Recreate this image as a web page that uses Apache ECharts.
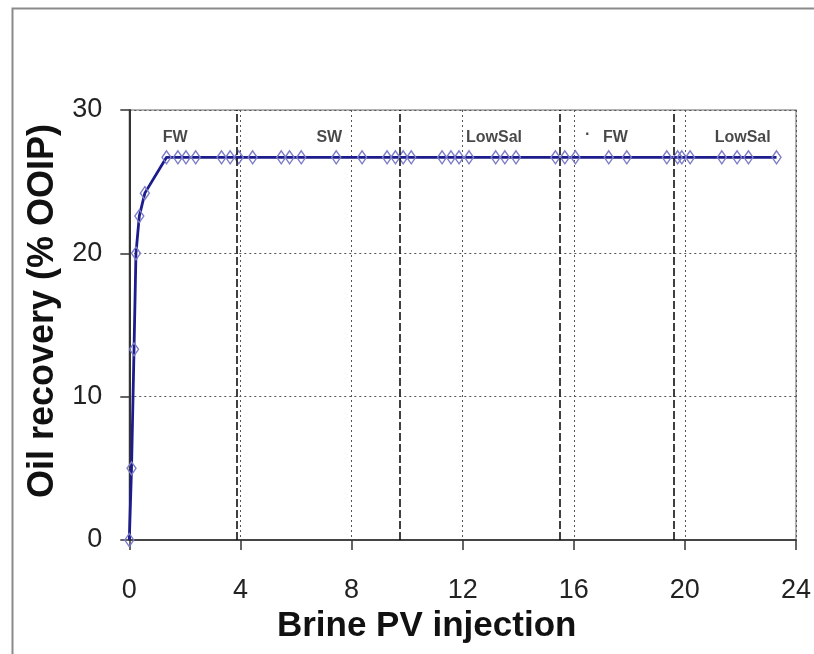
<!DOCTYPE html>
<html>
<head>
<meta charset="utf-8">
<script src="https://cdn.jsdelivr.net/npm/echarts@6/dist/echarts.min.js"></script>
<style>html,body{margin:0;padding:0;background:#fff}#c{width:814px;height:654px}</style>
</head>
<body>
<div id="c"></div>
<script>
// Brine PV injected (x) and oil recovery %OOIP (y)
var pvInjected = [0, 0.08, 0.17, 0.24, 0.36, 0.56, 1.34, 1.75, 2.04, 2.39, 3.32, 3.63, 3.94, 4.44, 5.47, 5.77, 6.19, 7.45, 8.38, 9.28, 9.58, 9.86, 10.15, 11.26, 11.58, 11.87, 12.23, 13.19, 13.52, 13.92, 15.34, 15.68, 16.06, 17.26, 17.91, 19.35, 19.74, 19.89, 20.19, 21.33, 21.88, 22.29, 23.30];
var oilRecovery = [0, 5.0, 13.3, 20.0, 22.6, 24.2, 26.7, 26.7, 26.7, 26.7, 26.7, 26.7, 26.7, 26.7, 26.7, 26.7, 26.7, 26.7, 26.7, 26.7, 26.7, 26.7, 26.7, 26.7, 26.7, 26.7, 26.7, 26.7, 26.7, 26.7, 26.7, 26.7, 26.7, 26.7, 26.7, 26.7, 26.7, 26.7, 26.7, 26.7, 26.7, 26.7, 26.7];
// brine switch points (PV)
var brineSwitches = [3.86, 9.72, 15.49, 19.59];
// stage labels
var stageNames = ['FW', 'SW', 'LowSal', 'FW', 'LowSal', '·'];
var stageX = [1.65, 7.2, 13.13, 17.5, 22.08, 16.5];
var stageY = [28.1, 28.1, 28.1, 28.1, 28.1, 28.3];
var xTicks = [0, 4, 8, 12, 16, 20, 24];
var yTicks = [0, 10, 20, 30];

var font = 'Arial, "Liberation Sans", Helvetica, sans-serif';
var chart = echarts.init(document.getElementById('c'), null, {renderer: 'canvas'});
var lineData = pvInjected.map(function (x, i) { return [x, oilRecovery[i]]; });
var labelData = stageNames.map(function (n, i) { return [stageX[i], stageY[i], n]; });

chart.setOption({
  animation: false,
  backgroundColor: '#fff',
  graphic: [{
    type: 'rect', left: 10, top: 6, z: -10,
    shape: {width: 820, height: 660},
    style: {fill: 'none', stroke: '#8a8a8a', lineWidth: 2}
  }],
  grid: {left: 129.3, right: 16.5, top: 110, bottom: 114, show: true, borderColor: '#9a9a9a', borderWidth: 1.5, backgroundColor: 'transparent'},
  xAxis: {
    type: 'value', min: xTicks[0], max: xTicks[xTicks.length - 1], interval: 4,
    name: 'Brine PV injection', nameLocation: 'middle', nameGap: 63,
    nameTextStyle: {fontFamily: font, fontSize: 35, fontWeight: 'bold', color: '#111', padding: [0, 72, 0, 0]},
    axisLine: {show: true, onZero: false, lineStyle: {color: '#444', width: 2}},
    axisTick: {show: true, length: 10, lineStyle: {color: '#333', width: 1.5}},
    axisLabel: {fontFamily: font, fontSize: 27, color: '#222', margin: 37},
    splitLine: {show: true, lineStyle: {type: [2, 3], color: '#555', width: 1}}
  },
  yAxis: {
    type: 'value', min: yTicks[0], max: yTicks[yTicks.length - 1], interval: 10,
    name: 'Oil recovery (% OOIP)', nameLocation: 'middle', nameGap: 67,
    nameTextStyle: {fontFamily: font, fontSize: 36, fontWeight: 'bold', color: '#111', padding: [0, 0, 0, 28]},
    axisLine: {show: true, onZero: false, lineStyle: {color: '#333', width: 2}},
    axisTick: {show: true, length: 9, lineStyle: {color: '#333', width: 1.5}},
    axisLabel: {fontFamily: font, fontSize: 27, color: '#222', margin: 27},
    splitLine: {show: true, lineStyle: {type: [2, 3], color: '#555', width: 1}}
  },
  series: [{
    type: 'line',
    data: lineData,
    symbol: 'diamond',
    symbolSize: [9, 13],
    showAllSymbol: true,
    lineStyle: {color: '#1c1c8c', width: 2.8},
    itemStyle: {color: 'rgba(255,255,255,0)', borderColor: '#7c7cc8', borderWidth: 1.4},
    z: 3,
    markLine: {
      silent: true, symbol: 'none', label: {show: false},
      lineStyle: {type: [8, 3], color: '#111', width: 1.6},
      data: brineSwitches.map(function (v) { return {xAxis: v}; })
    }
  }, {
    type: 'scatter',
    data: labelData,
    symbolSize: 0,
    silent: true,
    label: {
      show: true, position: 'inside',
      formatter: function (p) { return p.data[2]; },
      fontFamily: font, fontSize: 16, fontWeight: 'bold', color: '#1a1a1a'
    },
    z: 5
  }]
});
</script>
</body>
</html>
